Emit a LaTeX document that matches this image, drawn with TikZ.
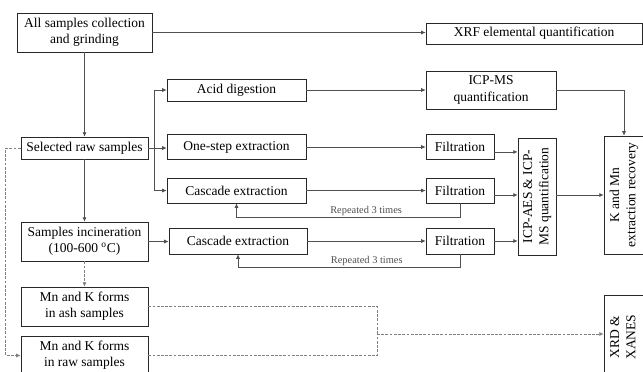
\documentclass[tikz,border=0pt]{standalone}
\usepackage{fontspec}
\setmainfont{Liberation Serif}
\usepackage{xcolor}
\usepackage{graphicx}
\usetikzlibrary{arrows.meta, positioning, calc}
\definecolor{lineg}{RGB}{80, 80, 80}
\definecolor{boxg}{RGB}{40, 40, 40}

\begin{document}
\begin{tikzpicture}[
  x=0.025cm, y=-0.025cm,
  every node/.style={font=\fontsize{9.6}{11.5}\selectfont},
  box/.style={
    draw=boxg, fill=white, line width=0.5pt,
    align=center, inner sep=1pt
  },
  dims/.style 2 args={minimum width=#1*0.25mm, minimum height=#2*0.25mm},
  arrow/.style={-{Latex[length=1.1mm, width=1mm]}, line width=0.45pt, color=lineg},
  dashln/.style={line width=0.4pt, dashed, dash pattern=on 2pt off 1pt, color=gray},
  rep/.style={font=\fontsize{7.4}{8.5}\selectfont, inner sep=1pt}
]
  \useasboundingbox (0,0) rectangle (643,371);

  % Preparazione dei campioni (colonna sinistra)
  \node[box, dims={135}{39}] (all) at (84.5,32.5) {All samples collection\\and grinding};
  \node[box, dims={127}{22}] (sel) at (84.5,148) {Selected raw samples};
  \node[box, dims={127}{39}] (incin) at (84.5,241.5) {Samples incineration\\(100-600 \textsuperscript{o}C)};
  \node[box, dims={127}{39}] (ash) at (84.5,306.5) {Mn and K forms\\in ash samples};
  \node[box, dims={127}{39}] (raw) at (84.5,355.5) {Mn and K forms\\in raw samples};

  % Trattamenti (colonna centrale)
  \node[box, dims={139}{22}] (acid) at (236.5,90) {Acid digestion};
  \node[box, dims={139}{25}] (one) at (236.5,147) {One-step extraction};
  \node[box, dims={139}{25}] (casc1) at (236.5,190.5) {Cascade extraction};
  \node[box, dims={138}{26}] (casc2) at (238,241) {Cascade extraction};

  % Filtrazioni e quantificazioni
  \node[box, dims={216}{21}] (xrf) at (534,33.5) {XRF elemental quantification};
  \node[box, dims={130}{38}] (icpms) at (491,90) {ICP-MS\\quantification};
  \node[box, dims={68}{25}] (filt1) at (460,147) {Filtration};
  \node[box, dims={68}{25}] (filt2) at (460,190.5) {Filtration};
  \node[box, dims={68}{26}] (filt3) at (460,241) {Filtration};
  \node[box, dims={38}{117}] (icpaes) at (537,196.5)
    {\rotatebox{90}{\begin{tabular}{@{}c@{}}ICP-AES \& ICP-\\MS quantification\end{tabular}}};
  \node[box, dims={40}{118}] (kmn) at (624,195)
    {\rotatebox{90}{\begin{tabular}{@{}c@{}}K and Mn\\extraction recovery\end{tabular}}};
  \node[box, dims={40}{84}] (xrd) at (624,337)
    {\rotatebox{90}{\begin{tabular}{@{}c@{}}XRD \&\\XANES\end{tabular}}};

  % Frecce principali
  \draw[arrow] (all.south) -- (sel.north);
  \draw[arrow] (all.east) -- (all.east -| xrf.west);
  \draw[arrow] (sel.south) -- (incin.north);
  \draw[arrow] (sel.east) -- (sel.east -| one.west);
  \draw[arrow] ($(sel.east)+(6,0)$) |- (acid.west);
  \draw[arrow] ($(sel.east)+(6,0)$) |- (casc1.west);
  \draw[arrow] (incin.east) -- (incin.east -| casc2.west);
  \draw[arrow] (acid.east) -- (acid.east -| icpms.west);
  \draw[arrow] (icpms.east) -| (kmn.north);
  \draw[arrow] (one.east) -- (one.east -| filt1.west);
  \draw[arrow] (casc1.east) -- (casc1.east -| filt2.west);
  \draw[arrow] (casc2.east) -- (casc2.east -| filt3.west);
  \draw[arrow] ([yshift=-3.5pt]filt1.east) coordinate (o1) -- (o1 -| icpaes.west);
  \draw[arrow] ([yshift=-3.2pt]filt2.east) coordinate (o2) -- (o2 -| icpaes.west);
  \draw[arrow] (filt3.east) -- (filt3.east -| icpaes.west);
  \draw[arrow] (icpaes.east |- kmn.west) -- (kmn.west);

  % Cicli ripetuti
  \draw[arrow] (filt2.south) -- ++(0,14) coordinate (l1) -- (l1 -| casc1.south)
    node[rep, pos=0.42, above] {Repeated 3 times} -- (casc1.south);
  \draw[arrow] (filt3.south) -- ++(0,13) coordinate (l2) -- (l2 -| casc2.south)
    node[rep, pos=0.42, above] {Repeated 3 times} -- (casc2.south);

  % Percorsi tratteggiati verso XRD/XANES
  \coordinate (join) at (377,334);
  \draw[dashln, -{Latex[length=1.1mm, width=1mm]}] (incin.south) -- (ash.north);
  \draw[dashln, -{Latex[length=1.1mm, width=1mm]}] (sel.west) -- ++(-15,0) |- (raw.west);
  \draw[dashln] (ash.east) -| (join);
  \draw[dashln] (raw.east) -| (join);
  \draw[dashln, -{Latex[length=1.1mm, width=1mm]}] (join) -- (join -| xrd.west);

\end{tikzpicture}
\end{document}
